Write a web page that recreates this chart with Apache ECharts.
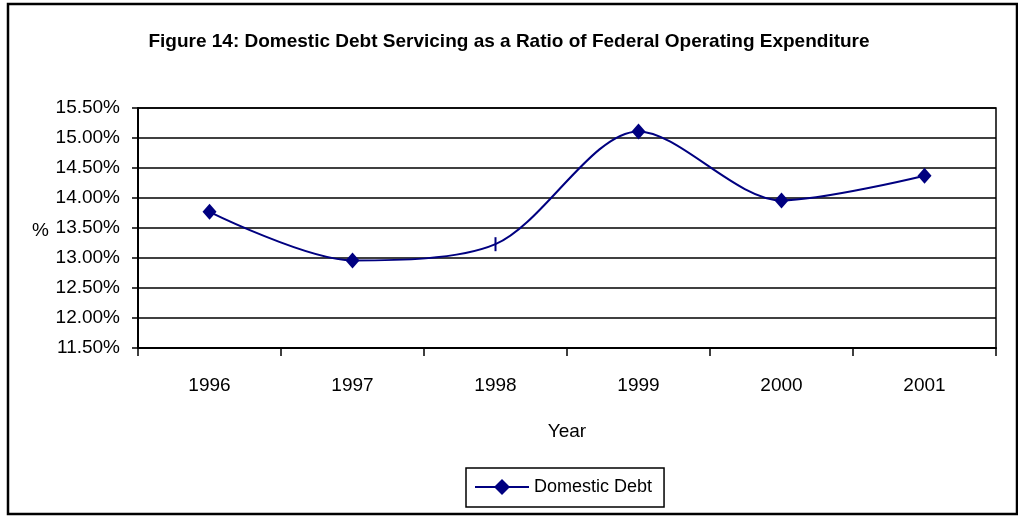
<!DOCTYPE html>
<html>
<head>
<meta charset="utf-8">
<title>Domestic Debt Servicing</title>
<script src="https://cdn.jsdelivr.net/npm/echarts@6/dist/echarts.min.js"></script>
<style>
  html, body { margin: 0; padding: 0; background: #fff; }
  #chart { width: 1018px; height: 516px; }
</style>
</head>
<body>
<div id="chart"></div>
<script>
// Fiscal years on the category axis
const years = ['1996', '1997', '1998', '1999', '2000', '2001'];
// Domestic debt servicing as % of federal operating expenditure
const debtRatio = [13.77, 12.96, 13.23, 15.11, 13.96, 14.37];
// Value axis range and step (percent)
const yMin = 11.5;
const yMax = 15.5;
const yStep = 0.5;

const FONT = "'Liberation Sans', Arial, sans-serif";
const NAVY = '#000080';

const chart = echarts.init(document.getElementById('chart'));

// 1998 is shown with a thin vertical tick instead of a diamond
const seriesData = debtRatio.map((v, i) =>
  years[i] === '1998'
    ? { value: v, symbol: 'rect', symbolSize: [2, 14] }
    : v
);

chart.setOption({
  animation: false,
  backgroundColor: '#fff',
  title: {
    text: 'Figure 14: Domestic Debt Servicing as a Ratio of Federal Operating Expenditure',
    left: 'center',
    top: 32,
    padding: 0,
    textStyle: { fontFamily: FONT, fontSize: 19, fontWeight: 'bold', color: '#000' }
  },
  grid: {
    left: 138, right: 22, top: 108, bottom: 168,
    show: true, borderColor: '#000', borderWidth: 1.5
  },
  legend: {
    data: ['Domestic Debt'],
    left: 466, top: 468,
    padding: [10, 12, 11, 8],
    borderColor: '#000', borderWidth: 1.5,
    itemWidth: 54, itemHeight: 20,
    textStyle: { fontFamily: FONT, fontSize: 18, color: '#000' }
  },
  xAxis: {
    type: 'category',
    data: years,
    boundaryGap: true,
    name: 'Year',
    nameLocation: 'middle',
    nameGap: 74,
    nameTextStyle: { fontFamily: FONT, fontSize: 19, color: '#000' },
    axisLine: { lineStyle: { color: '#000', width: 2 } },
    axisTick: { show: true, length: 8, lineStyle: { color: '#000', width: 1.5 } },
    axisLabel: { margin: 28, fontFamily: FONT, fontSize: 19, color: '#000' },
    splitLine: { show: false }
  },
  yAxis: {
    type: 'value',
    min: yMin, max: yMax, interval: yStep,
    axisLine: { show: true, lineStyle: { color: '#000', width: 2 } },
    axisTick: { show: true, length: 6, lineStyle: { color: '#000', width: 1.5 } },
    axisLabel: {
      margin: 18, fontFamily: FONT, fontSize: 19, color: '#000',
      formatter: v => v.toFixed(2) + '%'
    },
    splitLine: { show: true, lineStyle: { color: '#000', width: 1.5 } }
  },
  series: [{
    name: 'Domestic Debt',
    type: 'line',
    data: seriesData,
    smooth: 0.3,
    symbol: 'diamond',
    symbolSize: [14, 16],
    lineStyle: { color: NAVY, width: 2 },
    itemStyle: { color: NAVY }
  }],
  graphic: [
    {
      type: 'rect',
      shape: { x: 8, y: 4, width: 1009, height: 510 },
      style: { fill: null, stroke: '#000', lineWidth: 2.5 },
      silent: true
    },
    {
      type: 'text',
      left: 32, top: 221,
      style: { text: '%', fontFamily: FONT, fontSize: 19, fill: '#000' }
    }
  ]
});
</script>
</body>
</html>
